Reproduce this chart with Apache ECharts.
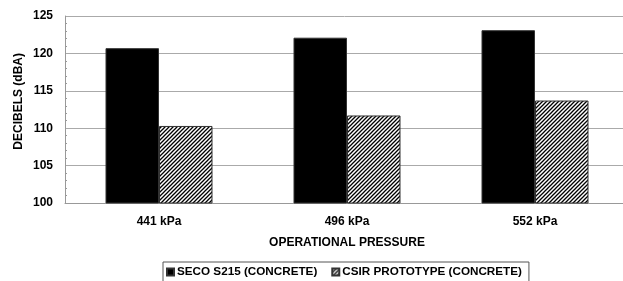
<!DOCTYPE html>
<html>
<head>
<meta charset="utf-8">
<script src="https://cdn.jsdelivr.net/npm/echarts@6/dist/echarts.min.js"></script>
<style>
html,body{margin:0;padding:0;background:#fff;}
#c{width:623px;height:281px;}
</style>
</head>
<body>
<div id="c"></div>
<script>
const categories = ['441 kPa', '496 kPa', '552 kPa'];
const secoValues = [120.7, 122.1, 123.1];
const csirValues = [110.3, 111.7, 113.7];
const seriesNames = ['SECO S215 (CONCRETE)', 'CSIR PROTOTYPE (CONCRETE)'];
const yTicks = [100, 105, 110, 115, 120, 125];

function hatch() {
  const c = document.createElement('canvas');
  c.width = 4; c.height = 4;
  const g = c.getContext('2d');
  g.fillStyle = '#fff'; g.fillRect(0, 0, 4, 4);
  g.strokeStyle = '#000'; g.lineWidth = 1.3;
  g.beginPath();
  g.moveTo(-1, 5); g.lineTo(5, -1);
  g.moveTo(-1, 1); g.lineTo(1, -1);
  g.moveTo(3, 5); g.lineTo(5, 3);
  g.stroke();
  return c;
}

const chart = echarts.init(document.getElementById('c'), null, {renderer: 'canvas'});
const font = 'Liberation Sans, Arial, sans-serif';
chart.setOption({
  animation: false,
  backgroundColor: '#fff',
  grid: {left: 65, width: 564, top: 16, bottom: 78, outerBoundsMode: 'none', containLabel: false},
  legend: {
    left: 163, top: 262,
    itemWidth: 7, itemHeight: 7, itemGap: 14,
    borderColor: '#555', borderWidth: 1,
    padding: [4, 7, 8, 3],
    icon: 'rect',
    textStyle: {fontFamily: font, fontWeight: 'bold', fontSize: 11.7, color: '#000', padding: [0, 0, 0, -2]},
    data: seriesNames
  },
  xAxis: {
    type: 'category', data: categories,
    name: 'OPERATIONAL PRESSURE', nameLocation: 'middle', nameGap: 34,
    nameTextStyle: {fontFamily: font, fontWeight: 'bold', fontSize: 12, color: '#000'},
    axisLine: {lineStyle: {color: '#999'}},
    axisTick: {inside: true, length: 3, lineStyle: {color: '#999'}},
    axisLabel: {fontFamily: font, fontWeight: 'bold', fontSize: 12, color: '#000', margin: 13}
  },
  yAxis: {
    type: 'value', min: 100, max: 125, interval: 5,
    axisLine: {show: true, lineStyle: {color: '#999'}},
    axisTick: {show: false, inside: true},
    minorTick: {show: true, splitNumber: 5, length: 2, lineStyle: {color: '#999'}},
    splitLine: {lineStyle: {color: '#aaa'}},
    axisLabel: {fontFamily: font, fontWeight: 'bold', fontSize: 12, color: '#000', margin: 12,
      formatter: v => yTicks.includes(v) ? String(v) : ''}
  },
  graphic: [{
    type: 'text', left: 13, top: 53, rotation: Math.PI / 2,
    style: {text: 'DECIBELS (dBA)', font: 'bold 12px ' + font, fill: '#000'}
  }],
  series: [
    {name: seriesNames[0], type: 'bar', data: secoValues, barWidth: 53.5, barGap: '0%',
     itemStyle: {color: '#000', borderColor: '#333', borderWidth: 1}},
    {name: seriesNames[1], type: 'bar', data: csirValues, barWidth: 53.5,
     itemStyle: {color: {image: hatch(), repeat: 'repeat'}, borderColor: '#333', borderWidth: 1}}
  ]
});
</script>
</body>
</html>
